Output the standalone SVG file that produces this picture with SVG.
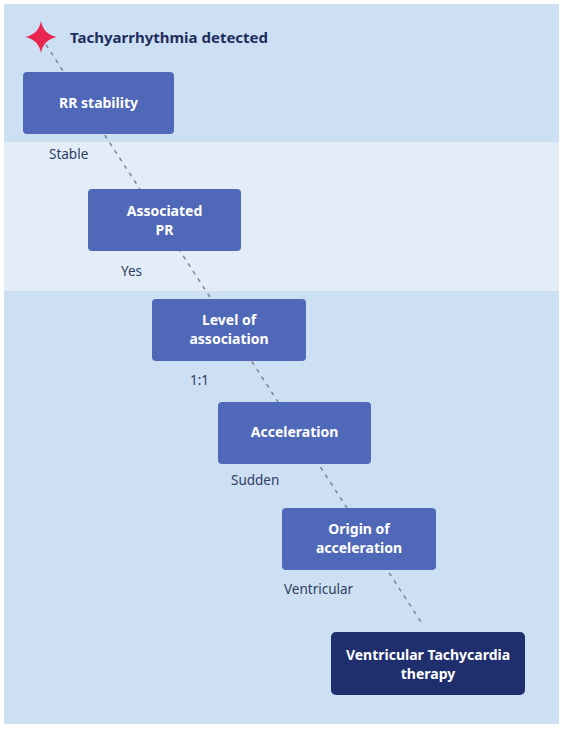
<svg xmlns="http://www.w3.org/2000/svg" width="564" height="731" viewBox="0 0 564 731">
<style>
.node{fill:#5068b8;}
.final{fill:#1f2e6c;}
.nt{font-family:"Noto Sans","Liberation Sans",sans-serif;font-weight:bold;font-size:14px;fill:#ffffff;text-anchor:middle;}
.lbl{font-family:"Noto Sans","Liberation Sans",sans-serif;font-size:13.5px;fill:#2c3d62;}
.title{font-family:"Noto Sans","Liberation Sans",sans-serif;font-weight:bold;font-size:15px;fill:#1f2d5c;}
.conn{stroke:#7a8696;stroke-width:1.5;stroke-dasharray:4 5;fill:none;}
</style>
<rect x="0" y="0" width="564" height="731" fill="#ffffff"/>
<rect x="4" y="4" width="555" height="720" fill="#cde0f3"/>
<rect x="4" y="142" width="555" height="149" fill="#e3edf8"/>
<g id="connectors">
<line class="conn" x1="41" y1="37" x2="423" y2="625"/>
</g>
<g id="start">
<path d="M41,21 Q43.5,34.5 57,37 Q43.5,39.5 41,53 Q38.5,39.5 25,37 Q38.5,34.5 41,21 Z" fill="#e8264f"/>
<text class="title" x="70" y="43">Tachyarrhythmia detected</text>
</g>
<g id="rr-stability">
<rect class="node" x="23" y="72" width="151" height="62" rx="4"/>
<text class="nt" x="98.5" y="108">RR stability</text>
</g>
<g id="label-stable"><text class="lbl" x="49" y="159">Stable</text></g>
<g id="associated-pr">
<rect class="node" x="88" y="189" width="153" height="62" rx="4"/>
<text class="nt" x="164.5" y="216">Associated</text>
<text class="nt" x="164.5" y="235">PR</text>
</g>
<g id="label-yes"><text class="lbl" x="121" y="276">Yes</text></g>
<g id="level-of-association">
<rect class="node" x="152" y="299" width="154" height="62" rx="4"/>
<text class="nt" x="229" y="325">Level of</text>
<text class="nt" x="229" y="344">association</text>
</g>
<g id="label-1-1"><text class="lbl" x="190" y="385">1:1</text></g>
<g id="acceleration">
<rect class="node" x="218" y="402" width="153" height="62" rx="4"/>
<text class="nt" x="294.5" y="437">Acceleration</text>
</g>
<g id="label-sudden"><text class="lbl" x="231" y="485">Sudden</text></g>
<g id="origin-of-acceleration">
<rect class="node" x="282" y="508" width="154" height="62" rx="4"/>
<text class="nt" x="359" y="534">Origin of</text>
<text class="nt" x="359" y="553">acceleration</text>
</g>
<g id="label-ventricular"><text class="lbl" x="284" y="594">Ventricular</text></g>
<g id="vt-therapy">
<rect class="final" x="331" y="632" width="194" height="63" rx="5"/>
<text class="nt" x="428" y="660">Ventricular Tachycardia</text>
<text class="nt" x="428" y="679">therapy</text>
</g>
</svg>
